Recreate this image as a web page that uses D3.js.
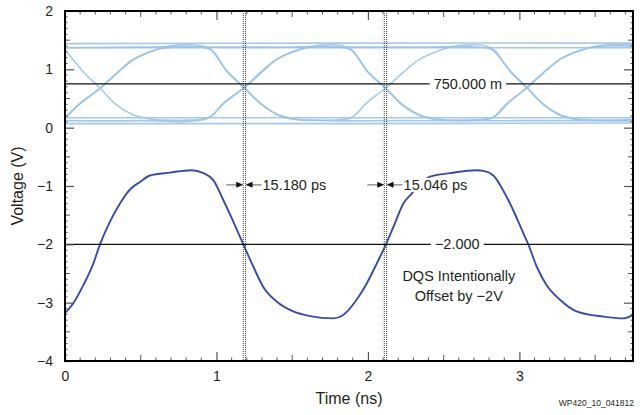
<!DOCTYPE html>
<html><head><meta charset="utf-8">
<script src="https://cdn.jsdelivr.net/npm/d3@7"></script>
<style>
html,body{margin:0;padding:0;background:#fff;}
svg{display:block;font-family:"Liberation Sans",Arial,Helvetica,sans-serif;}
</style></head>
<body>
<svg id="chart" width="640" height="415"></svg>
<script>
// ---------- DATA ----------
const xDomain = [0, 3.75];
const yDomain = [-4, 2];
const xTickValues = [0, 1, 2, 3];
const xTickLabels = ["0", "1", "2", "3"];
const yTickValues = [-4, -3, -2, -1, 0, 1, 2];
const yTickLabels = ["−4", "−3", "−2", "−1", "0", "1", "2"];
const xTitle = "Time (ns)";
const yTitle = "Voltage (V)";
const footnote = "WP420_10_041812";

// DQS waveform (offset by -2 V): time (ns), voltage (V)
const dqsTime = [0, 0.055, 0.121, 0.187, 0.231, 0.297, 0.363, 0.429, 0.495, 0.561, 0.693, 0.836, 0.913, 0.979, 1.045, 1.111, 1.177, 1.243, 1.309, 1.397, 1.507, 1.617, 1.771, 1.837, 1.925, 1.992, 2.058, 2.119, 2.178, 2.234, 2.289, 2.35, 2.41, 2.542, 2.718, 2.762, 2.828, 2.894, 2.96, 3.026, 3.059, 3.114, 3.18, 3.268, 3.378, 3.554, 3.686, 3.75];
const dqsVolt = [-3.18, -3.01, -2.70, -2.33, -2.0, -1.61, -1.30, -1.06, -0.93, -0.82, -0.77, -0.73, -0.78, -0.90, -1.24, -1.61, -2.0, -2.38, -2.73, -2.98, -3.15, -3.23, -3.27, -3.21, -2.95, -2.67, -2.33, -2.0, -1.64, -1.30, -1.13, -0.95, -0.84, -0.78, -0.73, -0.74, -0.82, -1.08, -1.42, -1.81, -2.0, -2.38, -2.70, -2.95, -3.15, -3.24, -3.27, -3.21];

// DQ eye-diagram traces: [time (ns), voltage (V)]
const eyeTraceA = [[0,0.17],[0.1,0.42],[0.231,0.68],[0.343,0.94],[0.449,1.17],[0.561,1.30],[0.673,1.39],[0.78,1.42],[0.88,1.41],[0.96,1.34],[1.07,0.96],[1.183,0.68],[1.30,0.39],[1.41,0.22],[1.52,0.15],[1.63,0.13],[1.75,0.13],[1.89,0.17],[1.99,0.42],[2.117,0.68],[2.23,0.94],[2.34,1.17],[2.45,1.30],[2.56,1.39],[2.67,1.42],[2.76,1.41],[2.83,1.34],[2.94,0.96],[3.05,0.68],[3.16,0.39],[3.27,0.22],[3.38,0.15],[3.5,0.13],[3.62,0.13],[3.75,0.14]];
const eyeTraceB = [[0,1.34],[0.12,0.96],[0.231,0.68],[0.34,0.39],[0.45,0.22],[0.56,0.15],[0.67,0.13],[0.8,0.13],[0.95,0.17],[1.05,0.42],[1.183,0.68],[1.295,0.94],[1.40,1.17],[1.51,1.30],[1.62,1.39],[1.73,1.42],[1.82,1.41],[1.89,1.34],[2.0,0.96],[2.117,0.68],[2.23,0.39],[2.34,0.22],[2.45,0.15],[2.56,0.13],[2.68,0.13],[2.82,0.17],[2.92,0.42],[3.05,0.68],[3.16,0.94],[3.27,1.17],[3.38,1.30],[3.49,1.39],[3.6,1.42],[3.75,1.42]];
const eyeTraceC = [[0,1.37],[0.5,1.38],[0.9,1.38],[0.97,1.33],[1.07,0.97],[1.183,0.69],[1.30,0.40],[1.41,0.21],[1.52,0.14],[1.7,0.12],[2.2,0.12],[2.7,0.13],[2.83,0.18],[2.93,0.43],[3.05,0.69],[3.16,0.95],[3.27,1.18],[3.38,1.31],[3.49,1.38],[3.6,1.40],[3.75,1.40]];
const eyeTraceD = [[0,0.12],[0.5,0.12],[0.94,0.16],[1.05,0.43],[1.183,0.69],[1.29,0.95],[1.40,1.18],[1.51,1.31],[1.62,1.38],[1.8,1.38],[2.3,1.38],[2.72,1.38],[2.82,1.33],[2.94,0.97],[3.05,0.69],[3.16,0.40],[3.27,0.21],[3.38,0.14],[3.55,0.12],[3.75,0.12]];
const eyeTraceE = [[0,0.15],[0.1,0.41],[0.231,0.67],[0.343,0.93],[0.449,1.16],[0.561,1.30],[0.673,1.37],[0.8,1.38],[1.4,1.38],[1.8,1.38],[1.89,1.33],[2.0,0.95],[2.117,0.67],[2.23,0.38],[2.34,0.21],[2.45,0.14],[2.6,0.12],[3.0,0.12],[3.75,0.12]];
const eyeFlatHigh = [[0,1.44],[1.8,1.45],[3.75,1.45]];
const eyeFlatHigh2 = [[0,1.37],[1.9,1.37],[3.75,1.37]];
const eyeFlatLow = [[0,0.07],[1.9,0.07],[3.75,0.08]];
const eyeFlatLow2 = [[0,0.17],[1.9,0.17],[3.75,0.17]];

// reference levels and labels
const levelValues = [0.75, -2.0];
const levelLabels = ["750.000 m", "−2.000"];
const levelLabelTimes = [2.66, 2.59];

// skew markers: pairs of cursor times (ns)
const markerTimes = [[1.177, 1.192], [2.108, 2.123]];
const markerLabels = ["15.180 ps", "15.046 ps"];
const markerVolt = -0.98;

const noteLines = ["DQS Intentionally", "Offset by −2V"];
const noteTime = 2.6;
const noteVolt = [-2.55, -2.88];

// ---------- CHART ----------
const svg = d3.select("#chart");
const x = d3.scaleLinear().domain(xDomain).range([65, 633]);
const y = d3.scaleLinear().domain(yDomain).range([361, 11]);
const X0 = x.range()[0], X1 = x.range()[1], Y0 = y.range()[1], Y1 = y.range()[0];
const txt = "#231f20";

svg.append("defs").append("clipPath").attr("id", "clip")
  .append("rect").attr("x", X0).attr("y", Y0).attr("width", X1 - X0).attr("height", Y1 - Y0);

const plot = svg.append("g").attr("clip-path", "url(#clip)");

// eye traces
const eyeLine = d3.line().x(d => x(d[0])).y(d => y(d[1])).curve(d3.curveCatmullRom.alpha(0.5));
const eyeAll = [eyeFlatHigh, eyeFlatHigh2, eyeFlatLow, eyeFlatLow2, eyeTraceC, eyeTraceD, eyeTraceE, eyeTraceA, eyeTraceB];
plot.selectAll("path.eye").data(eyeAll).join("path")
  .attr("class", "eye").attr("d", eyeLine)
  .attr("fill", "none").attr("stroke", "#9cc3e6").attr("stroke-width", 1.6).attr("stroke-opacity", 0.9);

// DQS trace
const dqsData = dqsTime.map((t, i) => [t, dqsVolt[i]]);
plot.append("path").datum(dqsData)
  .attr("d", d3.line().x(d => x(d[0])).y(d => y(d[1])).curve(d3.curveMonotoneX))
  .attr("fill", "none").attr("stroke", "#3a4ca8").attr("stroke-width", 1.9);

// vertical dotted cursors
markerTimes.forEach(pair => {
  pair.forEach(t => {
    svg.append("line").attr("x1", x(t)).attr("x2", x(t)).attr("y1", Y0).attr("y2", Y1)
      .attr("stroke", "#444").attr("stroke-width", 1).attr("stroke-dasharray", "1,1");
  });
});

// level lines with labels
levelValues.forEach((v, i) => {
  svg.append("line").attr("x1", X0).attr("x2", X1).attr("y1", y(v)).attr("y2", y(v))
    .attr("stroke", "#111").attr("stroke-width", 1.3);
  const t = svg.append("text").attr("x", x(levelLabelTimes[i])).attr("y", y(v))
    .attr("dy", "0.35em").attr("text-anchor", "middle")
    .attr("font-size", 14.5).attr("fill", txt).text(levelLabels[i]);
  const bb = t.node().getBBox();
  svg.insert("rect", () => t.node()).attr("x", bb.x - 4).attr("y", bb.y).attr("width", bb.width + 8).attr("height", bb.height).attr("fill", "#fff");
});

// skew markers
markerTimes.forEach((pair, i) => {
  const yy = y(markerVolt);
  const xa = x(pair[0]), xb = x(pair[1]);
  const g = svg.append("g");
  const t = g.append("text").attr("x", xb + 17).attr("y", yy).attr("dy", "0.35em")
    .attr("font-size", 14.5).attr("fill", txt).text(markerLabels[i]);
  const bb = t.node().getBBox();
  g.insert("rect", () => t.node()).attr("x", bb.x - 1).attr("y", bb.y + 1).attr("width", bb.width + 2).attr("height", bb.height - 2).attr("fill", "#fff");
  g.append("line").attr("x1", xa - 17).attr("x2", xa - 6).attr("y1", yy).attr("y2", yy).attr("stroke", "#9a9a9a").attr("stroke-width", 1.6);
  g.append("line").attr("x1", xb + 6).attr("x2", xb + 16).attr("y1", yy).attr("y2", yy).attr("stroke", "#9a9a9a").attr("stroke-width", 1.6);
  g.append("path").attr("d", `M${xa - 7},${yy - 3}L${xa},${yy}L${xa - 7},${yy + 3}Z`).attr("fill", "#111");
  g.append("path").attr("d", `M${xb + 7},${yy - 3}L${xb},${yy}L${xb + 7},${yy + 3}Z`).attr("fill", "#111");
});

// note
noteLines.forEach((s, i) => {
  svg.append("text").attr("x", x(noteTime)).attr("y", y(noteVolt[i])).attr("dy", "0.35em")
    .attr("text-anchor", "middle").attr("font-size", 14.5).attr("fill", txt).text(s);
});

// ---------- AXES ----------
const xMinor = d3.range(0, 3.751, 0.1).filter(v => Math.abs(v - Math.round(v)) > 1e-6);
const yMinor = d3.range(-4, 2.001, 0.1).filter(v => Math.abs(v - Math.round(v)) > 1e-6);
const tickLen = v => (Math.abs(v * 2 - Math.round(v * 2)) < 1e-6 ? 5 : 2.5);

function styleAxis(g) {
  g.select(".domain").remove();
  g.selectAll(".tick line").attr("stroke", "#555").attr("stroke-width", 1.2);
  g.selectAll(".tick text").attr("font-size", 14).attr("fill", txt).attr("font-family", "Liberation Sans, Arial, sans-serif");
}

svg.append("g").attr("transform", `translate(0,${Y1})`)
  .call(d3.axisBottom(x).tickValues(xTickValues).tickFormat((d, i) => xTickLabels[i]).tickSizeInner(-9).tickSizeOuter(0).tickPadding(10))
  .call(styleAxis);
svg.append("g").attr("transform", `translate(0,${Y0})`)
  .call(d3.axisTop(x).tickValues(xTickValues).tickFormat("").tickSizeInner(-9).tickSizeOuter(0))
  .call(styleAxis);
svg.append("g").attr("transform", `translate(${X0},0)`)
  .call(d3.axisLeft(y).tickValues(yTickValues).tickFormat((d, i) => yTickLabels[i]).tickSizeInner(-9).tickSizeOuter(0).tickPadding(12))
  .call(styleAxis);
svg.append("g").attr("transform", `translate(${X1},0)`)
  .call(d3.axisRight(y).tickValues(yTickValues).tickFormat("").tickSizeInner(-9).tickSizeOuter(0))
  .call(styleAxis);

const minor = svg.append("g").attr("stroke", "#555").attr("stroke-width", 1);
xMinor.forEach(v => {
  const L = tickLen(v) + 1;
  minor.append("line").attr("x1", x(v)).attr("x2", x(v)).attr("y1", Y1).attr("y2", Y1 - L);
  minor.append("line").attr("x1", x(v)).attr("x2", x(v)).attr("y1", Y0).attr("y2", Y0 + L);
});
yMinor.forEach(v => {
  const L = tickLen(v);
  minor.append("line").attr("y1", y(v)).attr("y2", y(v)).attr("x1", X0).attr("x2", X0 + L);
  minor.append("line").attr("y1", y(v)).attr("y2", y(v)).attr("x1", X1).attr("x2", X1 - L);
});

svg.append("rect").attr("x", X0).attr("y", Y0).attr("width", X1 - X0).attr("height", Y1 - Y0)
  .attr("fill", "none").attr("stroke", "#000").attr("stroke-width", 2);

svg.append("text").attr("x", (X0 + X1) / 2).attr("y", 404).attr("text-anchor", "middle")
  .attr("font-size", 16).attr("fill", txt).text(xTitle);
svg.append("text").attr("transform", `translate(23,${(Y0 + Y1) / 2}) rotate(-90)`).attr("text-anchor", "middle")
  .attr("font-size", 16).attr("fill", txt).text(yTitle);
svg.append("text").attr("x", 634).attr("y", 406).attr("text-anchor", "end")
  .attr("font-size", 8.5).attr("fill", txt).text(footnote);
</script>
</body></html>
